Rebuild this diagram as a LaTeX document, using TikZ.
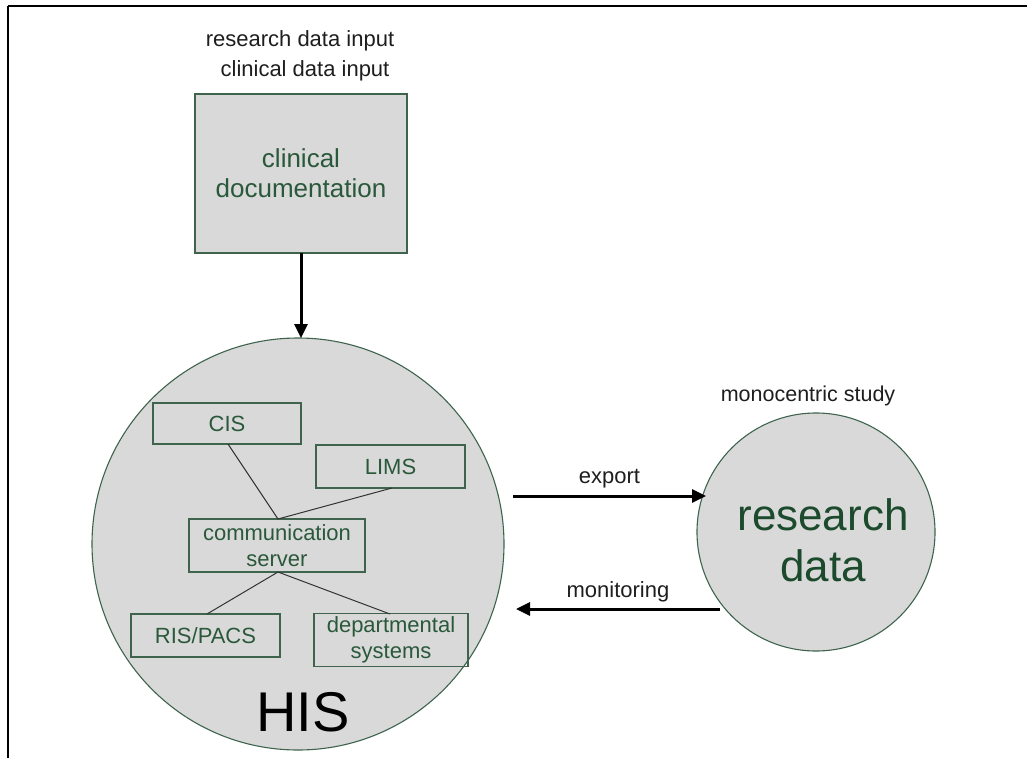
\documentclass[tikz,border=0pt]{standalone}
\usepackage{fontspec}
\setmainfont{Liberation Sans}
\usetikzlibrary{arrows.meta}
\definecolor{boxfill}{RGB}{217,217,217}
\definecolor{gborder}{RGB}{62,100,78}
\definecolor{gtext}{RGB}{42,88,58}
\definecolor{gbig}{RGB}{28,74,44}
\definecolor{labtext}{RGB}{30,30,30}
\tikzset{
  x=1pt, y=-1pt,
  fsz/.style={font=\fontsize{#1}{#1}\selectfont},
  sysbox/.style={draw=gborder, line width=1.1pt, fill=none, text=gtext, align=center, inner sep=0pt},
  bigcirc/.style={circle, draw=gborder, line width=1.1pt, fill=boxfill, inner sep=0pt},
  link/.style={draw=black!80, line width=1pt},
  flow/.style={line width=3pt, -{Triangle[length=14pt,width=13pt]}},
  lab/.style={text=labtext, inner sep=0pt},
}
\begin{document}
\begin{tikzpicture}
\useasboundingbox (0,0) rectangle (1027,757);
\fill[white] (0,0) rectangle (1027,757);
% frame
\draw[line width=2.2pt] (8,6) -- (1030,6);
\draw[line width=1.6pt] (8,6) -- (8,760);

% top labels
\node[lab, fsz=22] (rdi) at (300,41) {research data input};
\node[lab, fsz=22] (cdi) at (305,71) {clinical data input};

% clinical documentation box
\node[draw=gborder, line width=1.1pt, fill=boxfill, minimum width=212pt, minimum height=159pt, inner sep=0pt, text=gtext, align=center, fsz=26] (cd) at (301,173.5) {clinical\\[4pt]documentation};

% HIS circle
\node[bigcirc, minimum size=412pt] (his) at (298,544) {};
\node[inner sep=0pt, fsz=56] (histxt) at (303,712) {HIS};

% inner boxes
\node[sysbox, minimum width=148pt, minimum height=41pt, fsz=22] (cis) at (227,423.5) {CIS};
\node[sysbox, minimum width=149pt, minimum height=43pt, fsz=22] (lims) at (390.5,466.5) {LIMS};
\node[sysbox, minimum width=176pt, minimum height=53pt, fsz=22] (comm) at (277,545.5) {communication\\[4pt]server};
\node[sysbox, minimum width=149pt, minimum height=43pt, fsz=22] (ris) at (205.5,635.5) {RIS/PACS};
\node[sysbox, minimum width=154pt, minimum height=53pt, fsz=22] (dept) at (391,640) {departmental\\[4pt]systems};

\coordinate (cisb) at (228,444);
\coordinate (limsb) at (392,488);
\coordinate (commt) at (278,519);
\coordinate (commb) at (278,572);
\coordinate (rist) at (207,614);
\coordinate (deptt) at (390,614);
\draw[link] (cisb) -- (commt);
\draw[link] (limsb) -- (commt);
\draw[link] (commb) -- (rist);
\draw[link] (commb) -- (deptt);

% research data circle
\node[bigcirc, minimum size=238pt] (rd) at (816,532) {};
\node[inner sep=0pt, text=gbig, align=center, fsz=44] (rdtxt) at (823,540) {research\\[7pt]data};
\node[lab, fsz=21.5] (mono) at (808,396) {monocentric study};

% arrows
\coordinate (cdb) at (301,253);
\coordinate (histop) at (301,338);
\draw[flow] (cdb) -- (histop);

\coordinate (exs) at (513,496);
\coordinate (exe) at (706,496);
\draw[flow] (exs) -- node[lab, fsz=22, above=6pt] (exlab) {export} (exe);

\coordinate (mos) at (720,609);
\coordinate (moe) at (516,609);
\draw[flow] (mos) -- node[lab, fsz=22, above=5pt] (molab) {monitoring} (moe);
\end{tikzpicture}
\end{document}
